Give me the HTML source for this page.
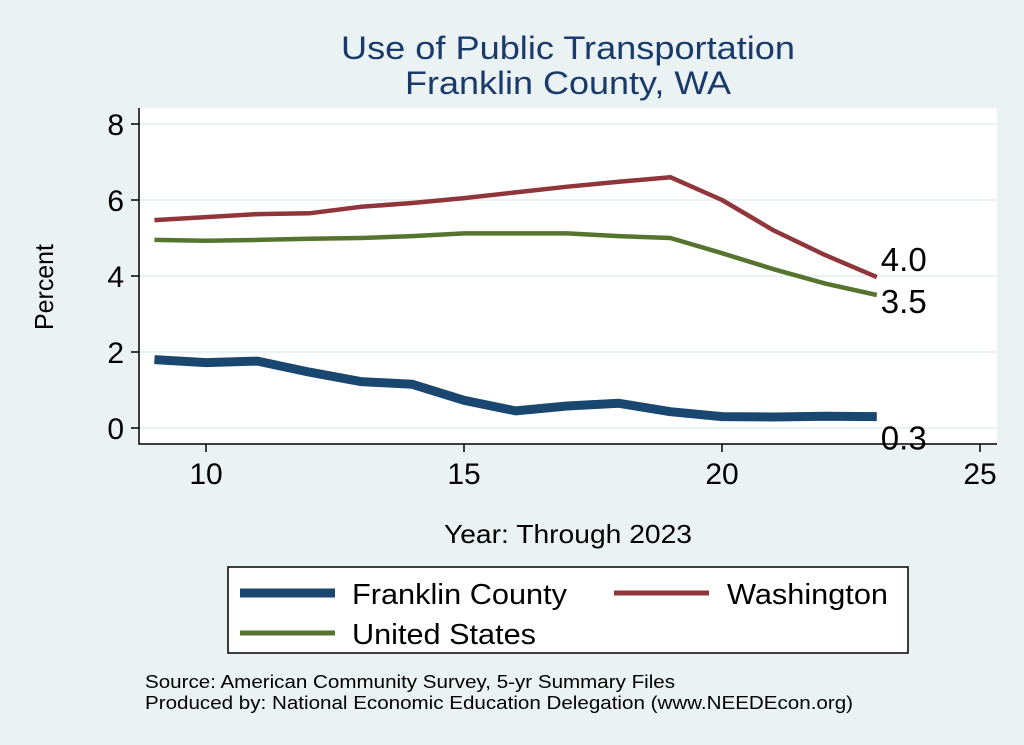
<!DOCTYPE html>
<html><head><meta charset="utf-8"><style>
body{margin:0;background:#eaf2f3;}
svg{display:block;font-family:"Liberation Sans",sans-serif;}
</style></head><body>
<svg id="chart" width="1024" height="745">
<rect x="0" y="0" width="1024" height="745" fill="#eaf2f3"/>
<rect x="139" y="108" width="858" height="336" fill="#fff"/>
<text x="341" y="59" font-size="32" fill="#1a3a6b" textLength="454" lengthAdjust="spacingAndGlyphs">Use of Public Transportation</text>
<text x="405" y="94" font-size="32" fill="#1a3a6b" textLength="326" lengthAdjust="spacingAndGlyphs">Franklin County, WA</text>
<g id="grid"></g>
<g id="axes"></g>
<g id="series"></g>
<text x="0" y="0" font-size="26" fill="#000" textLength="86" lengthAdjust="spacingAndGlyphs" transform="translate(53 330) rotate(-90)">Percent</text>
<text x="444" y="543" font-size="26" fill="#000" textLength="248" lengthAdjust="spacingAndGlyphs">Year: Through 2023</text>
<g>
<rect x="228" y="567" width="680" height="86" fill="#fff" stroke="#000" stroke-width="1.5"/>
<line x1="240" y1="593" x2="335" y2="593" stroke="#1a476f" stroke-width="9"/>
<text x="352" y="604" font-size="29" textLength="215" lengthAdjust="spacingAndGlyphs">Franklin County</text>
<line x1="614" y1="593" x2="709" y2="593" stroke="#90353b" stroke-width="5"/>
<text x="727" y="604" font-size="29" textLength="161" lengthAdjust="spacingAndGlyphs">Washington</text>
<line x1="240" y1="633" x2="335" y2="633" stroke="#55752f" stroke-width="5"/>
<text x="352" y="644" font-size="29" textLength="184" lengthAdjust="spacingAndGlyphs">United States</text>
</g>
<text x="145" y="688" font-size="18" textLength="530" lengthAdjust="spacingAndGlyphs">Source: American Community Survey, 5-yr Summary Files</text>
<text x="145" y="709" font-size="18" textLength="708" lengthAdjust="spacingAndGlyphs">Produced by: National Economic Education Delegation (www.NEEDEcon.org)</text>
</svg>
<script>
const years=[9,10,11,12,13,14,15,16,17,18,19,20,21,22,23];
const franklin=[1.8,1.72,1.76,1.47,1.22,1.15,0.73,0.45,0.58,0.65,0.43,0.3,0.29,0.31,0.3];
const washington=[5.47,5.55,5.63,5.65,5.82,5.92,6.05,6.2,6.35,6.48,6.6,6.0,5.2,4.55,3.97];
const unitedStates=[4.95,4.93,4.95,4.98,5.0,5.05,5.12,5.12,5.12,5.05,5.0,4.6,4.18,3.8,3.5];
const xTicks=[10,15,20,25];
const yTicks=[0,2,4,6,8];
const NS="http://www.w3.org/2000/svg";
const xs=v=>206+(v-10)*51.6;
const ys=v=>428-v*38;
function mk(tag,attrs,parent){const e=document.createElementNS(NS,tag);for(const k in attrs)e.setAttribute(k,attrs[k]);parent.appendChild(e);return e;}
const grid=document.getElementById('grid'),axes=document.getElementById('axes'),ser=document.getElementById('series');
yTicks.forEach(t=>{
 const g=mk('line',{x1:139,x2:997,y1:ys(t),y2:ys(t),stroke:'#eaf2f3','stroke-width':2},grid);
 
 
 const tk=mk('line',{x1:131,x2:139,y1:ys(t),y2:ys(t),stroke:'#000','stroke-width':1.5},axes);
 
 
 const tx=mk('text',{x:124,y:ys(t)+11,'font-size':30,'text-anchor':'end'},axes);
 tx.textContent=t;
 
 
});
xTicks.forEach(t=>{
 const tk=mk('line',{x1:xs(t),x2:xs(t),y1:444,y2:452,stroke:'#000','stroke-width':1.5},axes);
 
 
 const tx=mk('text',{x:xs(t),y:484,'font-size':30,'text-anchor':'middle'},axes);
 tx.textContent=t;
 
 
});
const ax=mk('path',{d:'M139 108 V444 H997',fill:'none',stroke:'#000','stroke-width':1.5},axes);


function line(data,color,w,name,lblDy){
 const d=data.map((v,i)=>(i?'L':'M')+xs(years[i]).toFixed(1)+' '+ys(v).toFixed(1)).join(' ');
 const p=mk('path',{d:d,fill:'none',stroke:color,'stroke-width':w,'stroke-linejoin':'round'},ser);
 
 
 const last=data[data.length-1];
 const t=mk('text',{x:xs(years[years.length-1])+4,y:ys(last)+lblDy,'font-size':33},ser);
 t.textContent=last.toFixed(1);
 
 
}
line(unitedStates,'#55752f',4.5,'us',18);
line(washington,'#90353b',4.5,'washington',-6);
line(franklin,'#1a476f',9,'franklin',33);
</script>
</body></html>
